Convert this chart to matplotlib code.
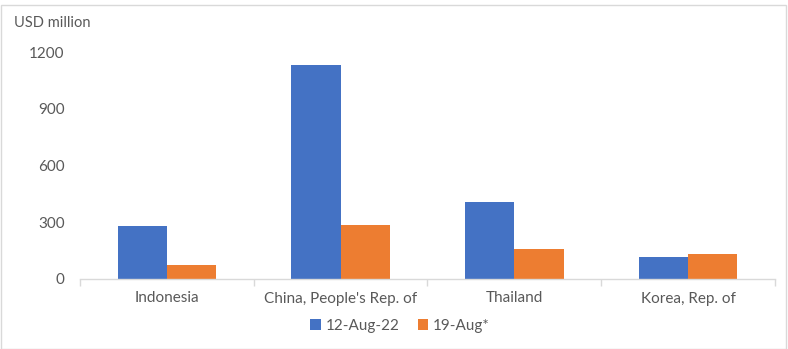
import numpy as np
import matplotlib.pyplot as plt
from matplotlib.patches import Rectangle

# data
countries = ['Indonesia', "China, People's Rep. of", 'Thailand', 'Korea, Rep. of']
aug12 = [281, 1129, 406, 118]
aug19 = [75, 286, 161, 134]
series_names = ['12-Aug-22', '19-Aug*']
yticks = [0, 300, 600, 900, 1200]

blue = '#4472C4'
orange = '#ED7D31'
grey = '#595959'

plt.rcParams['font.family'] = ['Lato', 'DejaVu Sans']

fig = plt.figure(figsize=(7.88, 3.49), dpi=100)
ax = fig.add_axes([80/788, 1-279/349, (775-80)/788, (279-52)/349])

x = np.arange(len(countries))
w = 0.283
ax.bar(x - w/2, aug12, w, color=blue, label=series_names[0])
ax.bar(x + w/2, aug19, w, color=orange, label=series_names[1])

ax.set_xlim(-0.5, len(countries) - 0.5)
ax.set_ylim(0, 1200)
ax.set_yticks(yticks)
ax.set_yticklabels([str(v) for v in yticks], color=grey, fontsize=11)
ax.tick_params(axis='y', length=0, pad=11)

ax.set_xticks(x)
ax.set_xticklabels(countries, color=grey, fontsize=11)
ax.set_xticks(np.arange(len(countries) + 1) - 0.5, minor=True)
ax.tick_params(axis='x', which='major', length=0, pad=9)
ax.tick_params(axis='x', which='minor', length=5, color='#D9D9D9', width=1)

for s in ['top', 'right', 'left']:
    ax.spines[s].set_visible(False)
ax.spines['bottom'].set_color('#D9D9D9')
ax.spines['bottom'].set_linewidth(1)

fig.text(14/788, 1-23/349, 'USD million', color=grey, fontsize=10.5, va='center')

leg = fig.legend(loc='center', bbox_to_anchor=(400/788, 1-326/349), ncol=2,
                 frameon=False, fontsize=11, handlelength=0.7, handleheight=0.7,
                 handletextpad=0.3, columnspacing=1.2)
for t in leg.get_texts():
    t.set_color(grey)

# thin frame round the chart
fig.patches.append(Rectangle((1/788, 0), 785/788, 1-5/349, transform=fig.transFigure,
                             fill=False, edgecolor='#D9D9D9', linewidth=1))

fig.savefig('out.png', dpi=100)
